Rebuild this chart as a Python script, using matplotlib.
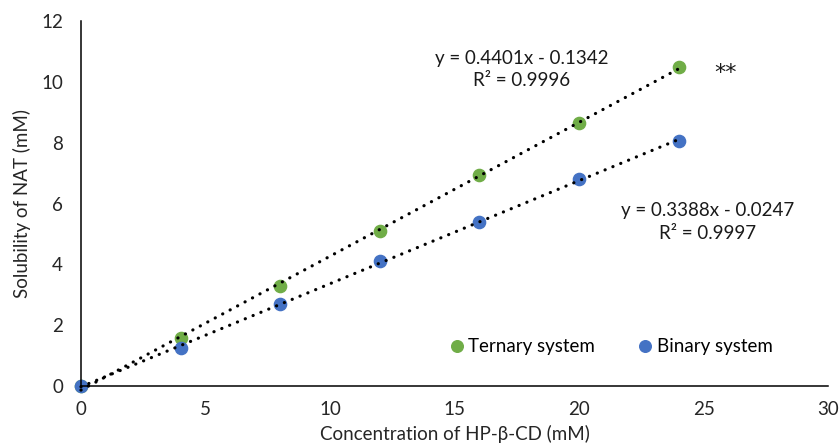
import numpy as np
import matplotlib
matplotlib.use("Agg")
import matplotlib.pyplot as plt

plt.rcParams['font.family'] = ['Lato', 'DejaVu Sans']

conc = [0, 4, 8, 12, 16, 20, 24]
ternary = [0, 1.58, 3.29, 5.10, 6.94, 8.66, 10.49]
binary = [0, 1.25, 2.70, 4.11, 5.39, 6.80, 8.05]
tern_fit = (0.4401, -0.1342, 0.9996)
bin_fit = (0.3388, -0.0247, 0.9997)
xticks = [0, 5, 10, 15, 20, 25, 30]
yticks = [0, 2, 4, 6, 8, 10, 12]

green = '#70AD47'
blue = '#4472C4'

fig = plt.figure(figsize=(8.39, 4.44), dpi=100)
ax = fig.add_axes([0.0965, 0.1306, 0.8905, 0.8221])

xs = np.array([conc[0], conc[-1]])
for (m, b, r2) in (tern_fit, bin_fit):
    ax.plot(xs, m * xs + b, color='black', lw=2.3,
            linestyle=(0, (0.05, 2.6)), dash_capstyle='round', zorder=3, clip_on=False)

ax.plot(conc, ternary, 'o', color=green, ms=8.8, label='Ternary system', zorder=2, clip_on=False)
ax.plot(conc, binary, 'o', color=blue, ms=8.8, label='Binary system', zorder=2, clip_on=False)

def fmt(fit):
    m, b, r2 = fit
    sign = '-' if b < 0 else '+'
    return f"y = {m:.4f}x {sign} {abs(b):.4f}\nR² = {r2:.4f}"

ax.text(17.7, 10.4, fmt(tern_fit), ha='center', va='center', fontsize=13.5,
        multialignment='center', linespacing=1.4, color='#1a1a1a')
ax.text(25.15, 5.4, fmt(bin_fit), ha='center', va='center', fontsize=13.5,
        multialignment='center', linespacing=1.4, color='#1a1a1a')
ax.text(25.9, 10.3, '**', ha='center', va='center', fontsize=16,
        family='DejaVu Sans', color='#1a1a1a')

ax.set_xlim(0, 30)
ax.set_ylim(0, 12)
ax.set_xticks(xticks)
ax.set_yticks(yticks)
ax.tick_params(length=0, labelsize=13.5, colors='#262626')
ax.tick_params(axis='x', pad=11)
ax.tick_params(axis='y', pad=13)
for s in ('top', 'right'):
    ax.spines[s].set_visible(False)
for s in ('left', 'bottom'):
    ax.spines[s].set_color('black')
    ax.spines[s].set_linewidth(1.1)

ax.set_xlabel('Concentration of HP-β-CD (mM)', fontsize=13.5, labelpad=5, color='#262626')
ax.set_ylabel('Solubility of NAT (mM)', fontsize=13.5, labelpad=7, color='#262626')

leg = ax.legend(loc='center', bbox_to_anchor=(0.708, 0.107), ncol=2, frameon=False,
                fontsize=13.5, handletextpad=0.1, columnspacing=2.2, markerscale=0.95,
                handlelength=1.0)

fig.savefig('out.png', dpi=100)
